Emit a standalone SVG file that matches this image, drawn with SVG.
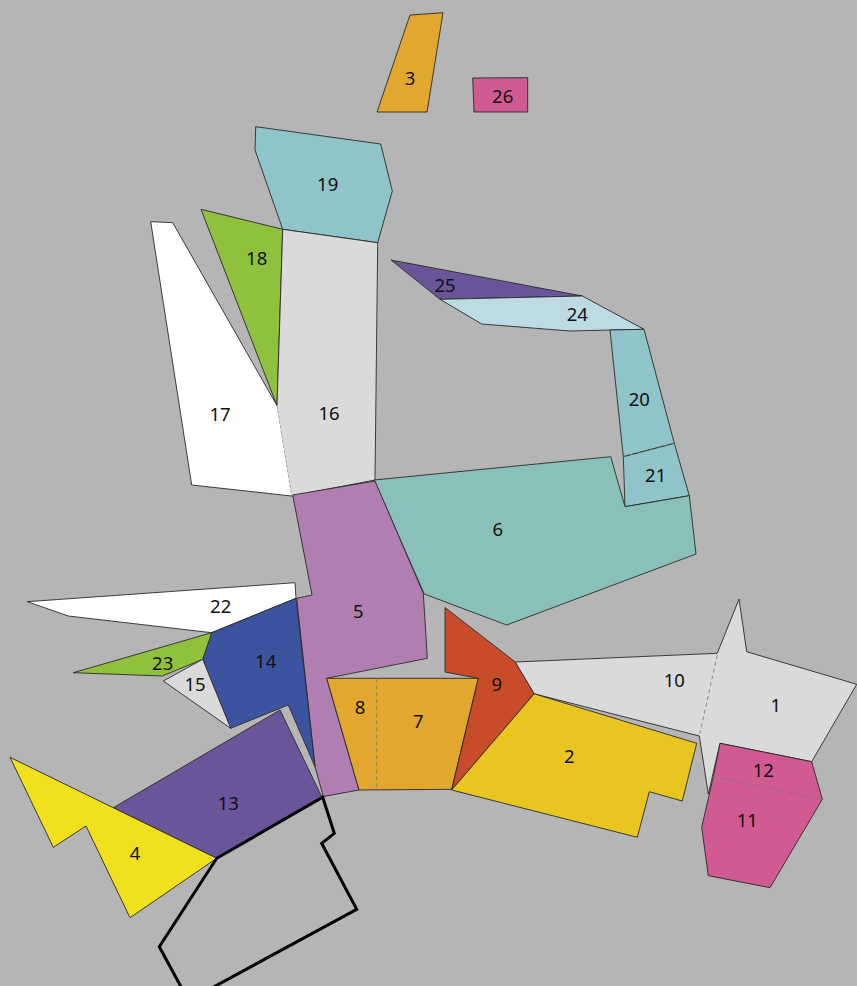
<svg xmlns="http://www.w3.org/2000/svg" width="857" height="986" viewBox="0 0 857 986">
<style>
.p{stroke:#2a2a2a;stroke-width:0.9;stroke-linejoin:round}
.d{fill:none;stroke:#777;stroke-width:0.8;stroke-dasharray:4 3}
.t{font-family:"Noto Sans","DejaVu Sans",sans-serif;font-size:18.5px;fill:#111;text-anchor:middle;dominant-baseline:central}
.orange{fill:#e2a72e}.pink{fill:#d05a91}.teal{fill:#8fc4c8}.green{fill:#8fc13c}.white{fill:#fff}.grey{fill:#dadada}
.purple{fill:#6a559a}.lblue{fill:#bcdbe2}.sea{fill:#89c1ba}.mauve{fill:#b07eb0}.blue{fill:#3c53a0}.yellow{fill:#f0e01e}.red{fill:#c84c2a}.gold{fill:#e8c520}
</style>
<rect width="857" height="986" fill="#b5b5b5"/>
<g id="n3"><polygon class="p orange" points="410,15 443,12.7 427,112 377,112"/><text class="t" x="410" y="77">3</text></g>
<g id="n26"><polygon class="p pink" points="472.7,78 527.7,77.7 527.7,112 474,112"/><text class="t" x="502.7" y="95">26</text></g>
<g id="n19"><polygon class="p teal" points="255.7,126.7 380.7,144 392.3,191 377.7,242.7 282.7,229.3 255,150"/><text class="t" x="327.7" y="183">19</text></g>
<g id="n18"><polygon class="p green" points="201,209.3 282.7,229.3 277,405.7"/><text class="t" x="256.7" y="257.7">18</text></g>
<g id="n17"><polygon class="white" points="150.7,221.7 172.7,222.7 277,405.7 291.7,496 191.7,485"/><polyline class="p" fill="none" points="277,405.7 172.7,222.7 150.7,221.7 191.7,485 291.7,496"/><text class="t" x="220" y="413">17</text></g>
<g id="n16"><polygon class="grey" points="282.7,229.3 377.7,242.7 375,480 291.7,496 277,405.7"/><polyline class="p" fill="none" points="277,405.7 282.7,229.3 377.7,242.7 375,480 291.7,496"/><line x1="277" y1="405.7" x2="291.7" y2="496" stroke="#999" stroke-width="0.8" stroke-dasharray="3 2"/><text class="t" x="329" y="412">16</text></g>
<g id="n25"><polygon class="p purple" points="391,260 582.3,296 440,299.3"/><text class="t" x="445" y="284">25</text></g>
<g id="n24"><polygon class="p lblue" points="440,299.3 582.3,296 644,329.3 610,330 570,331 481.7,324"/><text class="t" x="577.3" y="313.3">24</text></g>
<g id="n20"><polygon class="p teal" points="610,330 644,329.3 674.3,443.3 623.3,456.7"/><text class="t" x="639.3" y="398.3">20</text></g>
<g id="n21"><polygon class="p teal" points="623.3,456.7 674.3,443.3 689.3,495.7 625,506.7"/><text class="t" x="655.7" y="474">21</text></g>
<line class="d" x1="623.3" y1="456.7" x2="674.3" y2="443.3" stroke="#6fa4a8"/>
<g id="n6"><polygon class="p sea" points="374,480 610.7,456.7 625,506.7 689.3,495.7 696,554 506.7,625 424.3,594"/><text class="t" x="497.7" y="528.3">6</text></g>
<g id="n22"><polygon class="p white" points="27.3,601.7 295,582.7 296,598.3 211.7,632.7 68.3,616"/><text class="t" x="220.7" y="605">22</text></g>
<g id="n5"><polygon class="p mauve" points="292.7,495 375,481 423.3,593.3 427.3,658.3 326.7,678.3 359,790 323.3,796.5 315,766.7 296.7,598.3 312,595"/><text class="t" x="358.3" y="610">5</text></g>
<g id="n14"><polygon class="p blue" points="296,598.3 315,766.7 288.3,705 230.7,728.3 202.7,659.3 211.7,632.7"/><text class="t" x="265.7" y="660.7">14</text></g>
<g id="n23"><polygon class="p green" points="211.7,632.7 202.7,659.3 162.3,676 73.3,672.7"/><text class="t" x="162.7" y="662.7">23</text></g>
<g id="n15"><polygon class="p grey" points="202.7,659.3 230.7,728.3 163.3,681"/><text class="t" x="195" y="683.3">15</text></g>
<g id="n13"><polygon class="p purple" points="113.3,807.7 280,710 321.7,796.7 216.7,858.3"/><text class="t" x="228.3" y="802.7">13</text></g>
<g id="n4"><polygon class="p yellow" points="10,757.3 216.7,858.3 130,917.7 86,826 53.3,847.3"/><text class="t" x="135" y="852.7">4</text></g>
<g id="n8"><polygon class="p orange" points="326.7,678.3 478.3,678.3 451.7,789.3 359,790"/><line class="d" x1="376.7" y1="678.3" x2="376.7" y2="790" stroke="#b0802a"/><text class="t" x="360" y="706.7">8</text><text class="t" x="418.3" y="720">7</text></g>
<g id="n9"><polygon class="p red" points="445,607.5 515.3,662 534.2,693.8 451.7,790 478.3,678.3 445,672"/><text class="t" x="496.7" y="683.3">9</text></g>
<g id="n10"><polygon class="grey" points="515.3,662 717.3,653.3 739,599 746.7,651.7 856.7,684.3 811.7,761.7 720,743.3 708.3,794 699.3,736 534.2,693.8"/><polygon class="p" fill="none" points="515.3,662 717.3,653.3 739,599 746.7,651.7 856.7,684.3 811.7,761.7 720,743.3 708.3,794 699.3,736 534.2,693.8"/><line class="d" x1="717.3" y1="655" x2="699.3" y2="736" stroke="#999"/><text class="t" x="674.3" y="679.3">10</text><text class="t" x="775.7" y="704">1</text></g>
<g id="n2"><polygon class="p gold" points="534.2,693.8 696.7,743.3 682.3,801 649.3,791.7 637.3,837.3 451.7,790"/><text class="t" x="569.3" y="755.7">2</text></g>
<g id="n12"><polygon class="p pink" points="720,743.3 811.7,761.7 822.3,799.3 770,887.7 708.3,875.7 701.7,827.3 713.3,776.7"/><line class="d" x1="713.3" y1="776.7" x2="822.3" y2="799.3" stroke="#9a3a66"/><text class="t" x="763.3" y="769">12</text><text class="t" x="747.3" y="819.3">11</text></g>
<g id="outline"><polygon fill="none" stroke="#000" stroke-width="3" stroke-linejoin="miter" points="322.7,797.3 334.3,833.3 321.7,843.3 356.7,909.3 188.5,1000.6 159.3,946.7 216.7,858.3"/></g>
</svg>
